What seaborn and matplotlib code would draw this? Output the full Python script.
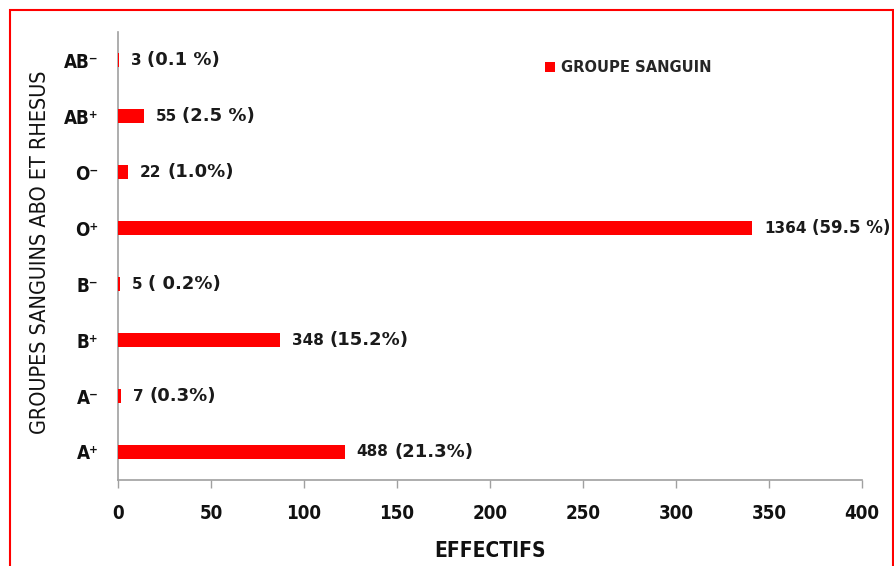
import matplotlib
matplotlib.use("Agg")
import matplotlib.pyplot as plt
import matplotlib.patches as mpatches
import seaborn as sns
import pandas as pd

# Data
groups = ["AB⁻", "AB⁺", "O⁻", "O⁺", "B⁻", "B⁺", "A⁻", "A⁺"]
counts = [3, 55, 22, 1364, 5, 348, 7, 488]
pct_labels = ["(0.1 %)", "(2.5 %)", "(1.0%)", "(59.5 %)", "( 0.2%)", "(15.2%)", "(0.3%)", "(21.3%)"]
# bar lengths as drawn on the EFFECTIFS axis
bar_lengths = [0.75, 13.75, 5.5, 341, 1.25, 87, 1.75, 122]
x_ticks = [0, 50, 100, 150, 200, 250, 300, 350, 400]

df = pd.DataFrame({"groupe": groups, "longueur": bar_lengths})

sns.set_theme(style="white")
plt.rcParams["font.family"] = ["DejaVu Sans"]

fig = plt.figure(figsize=(8.94, 5.66), dpi=100)
ax = fig.add_axes([0.132, 0.152, 0.832, 0.791])

sns.barplot(data=df, x="longueur", y="groupe", order=groups, orient="h",
            color="#ff0000", saturation=1, width=0.25, linewidth=0,
            label="GROUPE SANGUIN", zorder=3, ax=ax)

# value annotations: count, then a larger percentage
for i, (c, p, v) in enumerate(zip(counts, pct_labels, bar_lengths)):
    num = ax.annotate(str(c), xy=(v, i), xytext=(8.5, 0), textcoords="offset points",
                      va="center", ha="left", fontsize=11, fontweight="bold",
                      color="#1a1a1a")
    # keep the label next to the right edge from running off the figure
    pct_size = 12 if v > 300 else 13
    ax.annotate(p, xy=(1, 0.5), xycoords=num, xytext=(4, 0), textcoords="offset points",
                va="center", ha="left", fontsize=pct_size, fontweight="bold",
                color="#1a1a1a")

ax.set_xlim(0, 400)
ax.set_ylim(7.5, -0.5)
ax.set_xticks(x_ticks)
ax.set_xticklabels([str(t) for t in x_ticks], fontsize=13.5, fontweight="bold",
                   fontstretch="condensed", color="#111111")
ax.set_yticks(range(len(groups)))
ax.set_yticklabels(groups, fontsize=13.5, fontweight="bold", fontstretch="condensed",
                   color="#111111")

ax.tick_params(axis="x", bottom=True, direction="out", length=6, width=1,
               color="#a0a0a0", pad=11)
ax.tick_params(axis="y", left=False, length=0, pad=14)

for s in ["top", "right"]:
    ax.spines[s].set_visible(False)
for s in ["left", "bottom"]:
    ax.spines[s].set_color("#a0a0a0")
    ax.spines[s].set_linewidth(1.2)

ax.set_xlabel("EFFECTIFS", fontsize=15, fontweight="bold", fontstretch="condensed",
              color="#111111")
ax.xaxis.set_label_coords(0.5, -0.137)
ax.set_ylabel("GROUPES SANGUINS ABO ET RHESUS", fontsize=15.5, fontstretch="condensed",
              color="#111111")
ax.yaxis.set_label_coords(-0.091, 0.509)

ax.legend(loc="center left", bbox_to_anchor=(545 / 894, 1 - 68 / 566),
          bbox_transform=fig.transFigure, frameon=False, borderpad=0, borderaxespad=0,
          handlelength=0.6, handleheight=0.6, handletextpad=0.35,
          prop={"size": 11.8, "weight": "bold", "stretch": "condensed"})

# red frame around the figure
frame = mpatches.Rectangle((10 / 894, -0.1), 1 - 11 / 894, 1.1 - 10 / 566,
                           transform=fig.transFigure, fill=False, edgecolor="#ff0000",
                           linewidth=1.5, clip_on=False)
fig.patches.append(frame)

fig.savefig("out.png", dpi=100)
